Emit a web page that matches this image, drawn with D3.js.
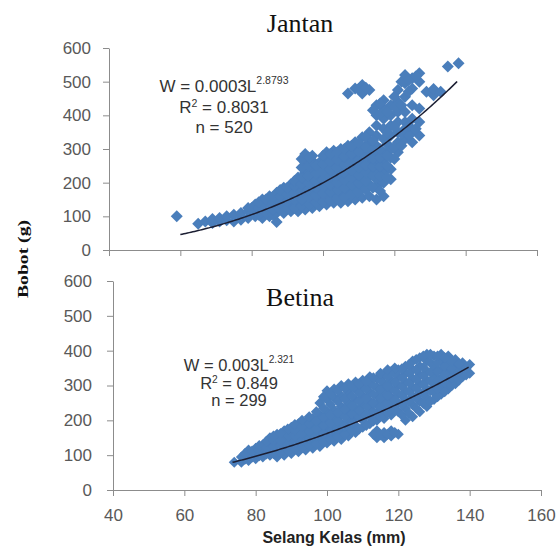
<!DOCTYPE html>
<html>
<head>
<meta charset="utf-8">
<script src="https://cdn.jsdelivr.net/npm/d3@7"></script>
<style>
  body { margin: 0; background: #fff; }
  svg { display: block; }
</style>
</head>
<body>
<script>
// --- data ---
const xTicks = [40, 60, 80, 100, 120, 140, 160]
const yTicks = [0, 100, 200, 300, 400, 500, 600]

// Jantan: [length mm, weight g]
const jantanPoints = [
  [59,100],[65,78],[67,85],[69,80],[69,92],[71,85],[71,95],[73,88],[73,100],
  [75,85],[75,105],[77,90],[77,100],[77,110],[79,95],[79,115],[79,125],
  [81,100],[81,120],[81,135],[83,95],[83,115],[83,135],[83,150],
  [85,100],[85,125],[85,145],[85,160],[87,83],[87,110],[87,130],[87,150],[87,170],
  [89,110],[89,130],[89,150],[89,170],[89,185],[91,115],[91,135],[91,155],[91,175],[91,195],
  [93,115],[93,140],[93,160],[93,180],[93,200],[93,215],
  [95,120],[95,145],[95,165],[95,185],[95,205],[95,230],[95,260],[95,285],
  [97,125],[97,150],[97,170],[97,190],[97,210],[97,235],[97,265],[97,280],
  [99,130],[99,150],[99,175],[99,195],[99,215],[99,240],[99,260],
  [101,135],[101,155],[101,180],[101,200],[101,220],[101,245],[101,270],[101,290],
  [103,140],[103,160],[103,185],[103,205],[103,230],[103,250],[103,275],[103,295],
  [105,140],[105,165],[105,190],[105,210],[105,235],[105,255],[105,280],[105,300],
  [107,145],[107,175],[107,195],[107,220],[107,240],[107,265],[107,290],[107,310],[107,465],
  [109,150],[109,180],[109,205],[109,225],[109,250],[109,270],[109,300],[109,320],[109,480],
  [111,155],[111,190],[111,210],[111,235],[111,255],[111,280],[111,305],[111,335],[111,490],[111,465],
  [113,160],[113,195],[113,220],[113,240],[113,265],[113,290],[113,320],[113,350],[113,475],
  [115,150],[115,190],[115,210],[115,235],[115,260],[115,285],[115,310],[115,340],[115,370],[115,400],[115,430],
  [117,160],[117,200],[117,230],[117,260],[117,290],[117,330],[117,360],[117,390],[117,420],[117,445],
  [119,210],[119,240],[119,275],[119,300],[119,340],[119,370],[119,400],[119,430],
  [121,290],[121,320],[121,350],[121,380],[121,410],[121,440],[121,475],
  [123,330],[123,360],[123,380],[123,410],[123,455],[123,495],[123,520],
  [125,320],[125,350],[125,390],[125,430],[125,480],[125,510],
  [127,340],[127,380],[127,420],[127,500],[127,525],
  [129,470],[131,460],[131,478],[133,470],[135,545],[138,555]
]
// Jantan, more fish lying between the columns above
const jantanPointsFill = [
  [80,110],[80,125],[82,105],[82,125],[82,142],[84,110],[84,130],[84,150],
  [86,105],[86,120],[86,140],[86,158],[88,120],[88,140],[88,160],[88,178],
  [90,125],[90,145],[90,165],[90,185],[92,125],[92,150],[92,170],[92,190],[92,205],
  [94,130],[94,150],[94,172],[94,195],[94,215],[94,245],[94,270],
  [96,135],[96,158],[96,178],[96,198],[96,220],[96,250],[96,275],
  [98,140],[98,162],[98,185],[98,205],[98,228],[98,250],
  [100,145],[100,168],[100,190],[100,210],[100,232],[100,258],[100,280],
  [102,148],[102,172],[102,195],[102,218],[102,240],[102,262],[102,285],
  [104,152],[104,178],[104,200],[104,222],[104,245],[104,268],[104,290],
  [106,158],[106,185],[106,208],[106,230],[106,252],[106,278],[106,300],
  [108,165],[108,192],[108,215],[108,238],[108,260],[108,285],[108,310],
  [110,172],[110,198],[110,222],[110,245],[110,268],[110,292],[110,318],[110,478],
  [112,180],[112,205],[112,230],[112,252],[112,278],[112,305],[112,335],[112,482],
  [114,185],[114,222],[114,248],[114,272],[114,298],[114,325],[114,415],
  [116,175],[116,220],[116,248],[116,275],[116,300],[116,405],[116,435],
  [118,215],[118,250],[118,280],[118,315],[118,350],[118,410],
  [120,270],[120,305],[120,365],[120,425],[120,455],
  [122,310],[122,345],[122,430],[122,500],
  [124,340],[124,370],[124,470],[124,505],[126,360],[126,515]
]

// Betina: [length mm, weight g]
const betinaPoints = [
  [74,80],[76,80],[76,95],[78,85],[78,100],[78,115],[80,90],[80,105],[80,120],
  [82,95],[82,110],[82,130],[84,100],[84,115],[84,135],[84,150],
  [86,95],[86,110],[86,125],[86,145],[86,160],[88,100],[88,115],[88,135],[88,150],[88,170],
  [90,105],[90,125],[90,145],[90,160],[90,180],[92,110],[92,130],[92,150],[92,170],[92,190],
  [94,115],[94,135],[94,155],[94,175],[94,195],[96,120],[96,140],[96,160],[96,180],[96,205],
  [98,125],[98,150],[98,170],[98,190],[98,215],[98,250],
  [100,135],[100,155],[100,175],[100,200],[100,225],[100,260],[100,285],
  [102,140],[102,160],[102,185],[102,205],[102,230],[102,265],[102,290],
  [104,145],[104,165],[104,190],[104,215],[104,240],[104,270],[104,300],
  [106,155],[106,175],[106,200],[106,225],[106,250],[106,280],[106,305],
  [108,165],[108,185],[108,210],[108,235],[108,260],[108,290],[108,310],
  [110,180],[110,200],[110,220],[110,245],[110,270],[110,295],[110,315],
  [112,190],[112,210],[112,235],[112,255],[112,280],[112,305],[112,325],
  [114,150],[114,170],[114,200],[114,220],[114,245],[114,270],[114,295],[114,320],
  [116,150],[116,165],[116,205],[116,230],[116,255],[116,280],[116,305],[116,330],
  [118,155],[118,170],[118,215],[118,240],[118,265],[118,290],[118,315],[118,340],
  [120,160],[120,225],[120,250],[120,275],[120,300],[120,325],[120,345],
  [122,200],[122,235],[122,260],[122,285],[122,310],[122,335],[122,355],
  [124,210],[124,245],[124,270],[124,295],[124,320],[124,345],[124,370],
  [126,225],[126,255],[126,280],[126,305],[126,330],[126,355],[126,380],
  [128,240],[128,265],[128,290],[128,315],[128,340],[128,370],[128,390],
  [130,260],[130,280],[130,305],[130,330],[130,355],[130,385],
  [132,275],[132,300],[132,320],[132,345],[132,370],[132,390],
  [134,290],[134,315],[134,340],[134,365],[134,385],
  [136,305],[136,330],[136,355],[136,375],[138,325],[138,345],[138,365],[140,335],[140,360]
]
// Betina, more fish lying between the columns above
const betinaPointsFill = [
  [77,88],[77,105],[79,95],[79,112],[81,98],[81,115],[81,128],[83,103],[83,122],[83,140],
  [85,105],[85,125],[85,142],[85,155],[87,108],[87,128],[87,142],[87,162],
  [89,112],[89,130],[89,155],[89,175],[91,118],[91,138],[91,155],[91,172],[91,188],
  [93,122],[93,142],[93,162],[93,182],[93,200],[95,128],[95,148],[95,168],[95,190],[95,210],
  [97,132],[97,155],[97,175],[97,198],[97,225],[99,138],[99,162],[99,185],[99,208],[99,235],[99,268],
  [101,145],[101,168],[101,192],[101,215],[101,245],[101,278],
  [103,152],[103,175],[103,198],[103,222],[103,255],[103,285],
  [105,160],[105,182],[105,210],[105,232],[105,262],[105,292],
  [107,170],[107,192],[107,218],[107,242],[107,270],[107,298],
  [109,175],[109,210],[109,228],[109,255],[109,280],[109,305],
  [111,185],[111,215],[111,240],[111,262],[111,290],[111,312],
  [113,160],[113,198],[113,225],[113,250],[113,275],[113,300],[113,322],
  [115,158],[115,212],[115,238],[115,262],[115,288],[115,315],[115,335],
  [117,160],[117,222],[117,248],[117,272],[117,298],[117,325],[117,345],
  [119,165],[119,232],[119,258],[119,285],[119,310],[119,335],[119,350],
  [121,215],[121,245],[121,272],[121,298],[121,322],[121,348],
  [123,220],[123,255],[123,282],[123,308],[123,335],[123,360],
  [125,235],[125,265],[125,292],[125,318],[125,345],[125,375],
  [127,248],[127,275],[127,302],[127,328],[127,352],[127,385],
  [129,255],[129,285],[129,312],[129,338],[129,365],[129,390],
  [131,268],[131,290],[131,315],[131,340],[131,365],[131,385],
  [133,282],[133,308],[133,332],[133,355],[133,380],
  [135,300],[135,322],[135,348],[135,370],[137,315],[137,340],[137,362],[139,330],[139,350]
]

// trend lines W = a * L^b (a tuned to the drawn curve)
const jantanTrend = { a: 0.000348, b: 2.8793, from: 60, to: 137.6 }
const betinaTrend = { a: 0.0037, b: 2.321, from: 73.5, to: 139.7 }

const jantanLabel = ["W = 0.0003L", "2.8793", "0.8031", "520"]
const betinaLabel = ["W = 0.003L", "2.321", "0.849", "299"]

// --- drawing ---
const width = 558, height = 552
const blue = "#4a7ebb", axisGrey = "#8c8c8c", tickGrey = "#595959"
const sans = "'Liberation Sans', Arial, sans-serif"
const serif = "'Liberation Serif', 'Times New Roman', serif"

const svg = d3.select("body").append("svg")
      .attr("width", width)
      .attr("height", height)
      .attr("viewBox", [0, 0, width, height])

// excel style diamond marker
const diamond = {
      draw(ctx, size) {
            const r = Math.sqrt(size / 2)
            ctx.moveTo(0, -r); ctx.lineTo(r, 0); ctx.lineTo(0, r); ctx.lineTo(-r, 0); ctx.closePath()
      }
}

function panel({ points, trend, label, title, xRange, yRange, showX, titleY, eqX, eqY, eqStep, eqSize, r, padY }) {
      const x = d3.scaleLinear([40, 160], xRange)
      const y = d3.scaleLinear([0, 600], yRange)
      const g = svg.append("g")

      // y axis
      g.append("g")
            .attr("transform", `translate(${xRange[0]},0)`)
            .call(d3.axisLeft(y).tickValues(yTicks).tickSize(6).tickPadding(padY).tickSizeOuter(0))
            .call(a => a.selectAll("line, path").attr("stroke", axisGrey))
            .call(a => a.selectAll(".tick text")
                  .attr("font-family", sans).attr("font-size", 17).attr("fill", tickGrey))

      // x axis
      g.append("g")
            .attr("transform", `translate(0,${yRange[0]})`)
            .call(d3.axisBottom(x).tickValues(xTicks).tickSize(6).tickPadding(13).tickSizeOuter(0)
                  .tickFormat(showX ? d3.format("d") : ""))
            .call(a => a.selectAll("line, path").attr("stroke", axisGrey))
            .call(a => a.selectAll(".tick text")
                  .attr("font-family", sans).attr("font-size", 17).attr("fill", tickGrey))

      // points
      g.append("g")
            .attr("fill", blue)
            .selectAll("path")
            .data(points)
            .join("path")
            .attr("transform", d => `translate(${x(d[0])},${y(d[1])})`)
            .attr("d", d3.symbol(diamond, 2 * r * r))

      // trend line
      const L = d3.range(trend.from, trend.to, 0.5).concat([trend.to])
      g.append("path")
            .datum(L)
            .attr("fill", "none")
            .attr("stroke", "#1c1f33")
            .attr("stroke-width", 1.5)
            .attr("d", d3.line(l => x(l), l => y(trend.a * Math.pow(l, trend.b))))

      // title
      g.append("text")
            .attr("x", 300).attr("y", titleY)
            .attr("text-anchor", "middle")
            .attr("font-family", serif).attr("font-size", 26).attr("fill", "#111")
            .text(title)

      // equation
      const eq = g.append("g")
            .attr("font-family", sans).attr("font-size", eqSize).attr("fill", "#333")
            .attr("text-anchor", "middle")
      const w = eq.append("text").attr("x", eqX).attr("y", eqY)
      w.append("tspan").text(label[0])
      w.append("tspan").attr("font-size", eqSize * 0.62).attr("dy", -8).text(label[1])
      const r2 = eq.append("text").attr("x", eqX).attr("y", eqY + eqStep)
      r2.append("tspan").text("R")
      r2.append("tspan").attr("font-size", eqSize * 0.62).attr("dy", -6).text("2")
      r2.append("tspan").attr("dy", 6).text(" = " + label[2])
      eq.append("text").attr("x", eqX).attr("y", eqY + 2 * eqStep - 1).text("n = " + label[3])
}

panel({ points: jantanPoints.concat(jantanPointsFill), trend: jantanTrend, label: jantanLabel, title: "Jantan",
      xRange: [109, 537], yRange: [250, 48], showX: false, titleY: 32,
      eqX: 224, eqY: 92, eqStep: 21, eqSize: 17, r: 6, padY: 12 })

panel({ points: betinaPoints.concat(betinaPointsFill), trend: betinaTrend, label: betinaLabel, title: "Betina",
      xRange: [113, 541], yRange: [490, 281], showX: true, titleY: 306,
      eqX: 239, eqY: 371, eqStep: 18, eqSize: 16.5, r: 5.5, padY: 15 })

// axis titles
svg.append("text")
      .attr("transform", "translate(28,259) rotate(-90)")
      .attr("text-anchor", "middle")
      .attr("font-family", serif).attr("font-weight", "bold").attr("font-size", 15)
      .attr("textLength", 78).attr("lengthAdjust", "spacingAndGlyphs")
      .attr("fill", "#111")
      .text("Bobot (g)")

svg.append("text")
      .attr("x", 334).attr("y", 543)
      .attr("text-anchor", "middle")
      .attr("font-family", sans).attr("font-weight", "bold").attr("font-size", 16)
      .attr("fill", "#222")
      .text("Selang Kelas (mm)")
</script>
</body>
</html>
